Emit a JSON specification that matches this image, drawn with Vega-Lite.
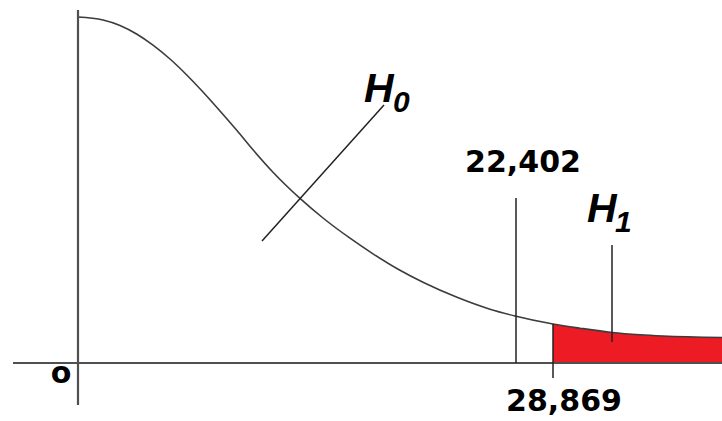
{
  "$schema": "https://vega.github.io/schema/vega-lite/v6.json",
  "width": 722,
  "height": 421,
  "autosize": {"type": "none"},
  "padding": 0,
  "background": "white",
  "config": {"view": {"stroke": null}},
  "datasets": {
    "curve": [
      {"x": 0, "y": 34.6},
      {"x": 2.5, "y": 34.3},
      {"x": 4.2, "y": 33.76},
      {"x": 5.9, "y": 32.88},
      {"x": 7.5, "y": 31.79},
      {"x": 9.2, "y": 30.4},
      {"x": 10.9, "y": 28.78},
      {"x": 12.5, "y": 27.1},
      {"x": 14.2, "y": 25.2},
      {"x": 15.9, "y": 23.24},
      {"x": 17.5, "y": 21.32},
      {"x": 19.5, "y": 19.08},
      {"x": 22.2, "y": 16.46},
      {"x": 24.5, "y": 14.5},
      {"x": 27.2, "y": 12.48},
      {"x": 29.5, "y": 10.92},
      {"x": 32.2, "y": 9.27},
      {"x": 34.5, "y": 8.07},
      {"x": 37.9, "y": 6.57},
      {"x": 41.2, "y": 5.38},
      {"x": 43.7, "y": 4.7},
      {"x": 47.5, "y": 3.9},
      {"x": 50.2, "y": 3.48},
      {"x": 53.4, "y": 3.05},
      {"x": 56.2, "y": 2.82},
      {"x": 58.5, "y": 2.7},
      {"x": 64.4, "y": 2.55}
    ],
    "axes": [
      {"x": -6.5, "x2": 64.4, "y": 0, "y2": 0},
      {"x": 0, "x2": 0, "y": 35.3, "y2": -4.2}
    ],
    "marks": [
      {"x": 43.8, "x2": 43.8, "y": 0, "y2": 16.5},
      {"x": 47.5, "x2": 47.5, "y": 3.9, "y2": -1.5},
      {"x": 53.4, "x2": 53.4, "y": 11.8, "y2": 2.1},
      {"x": 18.4, "x2": 30.6, "y": 12.2, "y2": 25.8}
    ],
    "numbers": [
      {"x": 44.5, "y": 19.1, "label": "22,402"},
      {"x": 48.6, "y": -4.8, "label": "28,869"},
      {"x": -1.7, "y": -2.0, "label": "o"}
    ],
    "hs": [
      {"x": 28.6, "y": 26.1, "label": "H"},
      {"x": 50.9, "y": 14.1, "label": "H"}
    ],
    "subs": [
      {"x": 31.5, "y": 25.1, "label": "0"},
      {"x": 53.7, "y": 13.1, "label": "1"}
    ]
  },
  "layer": [
    {
      "data": {"name": "curve"},
      "transform": [{"filter": "datum.x >= 47.5"}],
      "mark": {"type": "area", "color": "#ED1C24", "interpolate": "monotone"},
      "encoding": {
        "x": {"field": "x", "type": "quantitative", "axis": null, "scale": {"domain": [-7.8, 64.4], "nice": false, "zero": false}},
        "y": {"field": "y", "type": "quantitative", "axis": null, "scale": {"domain": [-5.8, 36.3], "nice": false, "zero": false}},
        "y2": {"datum": 0}
      }
    },
    {
      "data": {"name": "curve"},
      "mark": {"type": "line", "color": "#3c3c3c", "strokeWidth": 1.6, "interpolate": "monotone"},
      "encoding": {
        "x": {"field": "x", "type": "quantitative"},
        "y": {"field": "y", "type": "quantitative"}
      }
    },
    {
      "data": {"name": "axes"},
      "mark": {"type": "rule", "color": "#505050", "strokeWidth": 2.2},
      "encoding": {
        "x": {"field": "x", "type": "quantitative"},
        "x2": {"field": "x2"},
        "y": {"field": "y", "type": "quantitative"},
        "y2": {"field": "y2"}
      }
    },
    {
      "data": {"name": "marks"},
      "mark": {"type": "rule", "color": "#222222", "strokeWidth": 1.5},
      "encoding": {
        "x": {"field": "x", "type": "quantitative"},
        "x2": {"field": "x2"},
        "y": {"field": "y", "type": "quantitative"},
        "y2": {"field": "y2"}
      }
    },
    {
      "data": {"name": "numbers"},
      "mark": {"type": "text", "font": "DejaVu Sans", "fontWeight": "bold", "fontSize": 30, "align": "center", "baseline": "alphabetic", "color": "#000000"},
      "encoding": {
        "x": {"field": "x", "type": "quantitative"},
        "y": {"field": "y", "type": "quantitative"},
        "text": {"field": "label"}
      }
    },
    {
      "data": {"name": "hs"},
      "mark": {"type": "text", "font": "Liberation Sans", "fontWeight": "bold", "fontStyle": "italic", "fontSize": 41, "align": "left", "baseline": "alphabetic", "color": "#000000"},
      "encoding": {
        "x": {"field": "x", "type": "quantitative"},
        "y": {"field": "y", "type": "quantitative"},
        "text": {"field": "label"}
      }
    },
    {
      "data": {"name": "subs"},
      "mark": {"type": "text", "font": "Liberation Sans", "fontWeight": "bold", "fontStyle": "italic", "fontSize": 30, "align": "left", "baseline": "alphabetic", "color": "#000000"},
      "encoding": {
        "x": {"field": "x", "type": "quantitative"},
        "y": {"field": "y", "type": "quantitative"},
        "text": {"field": "label"}
      }
    }
  ]
}
